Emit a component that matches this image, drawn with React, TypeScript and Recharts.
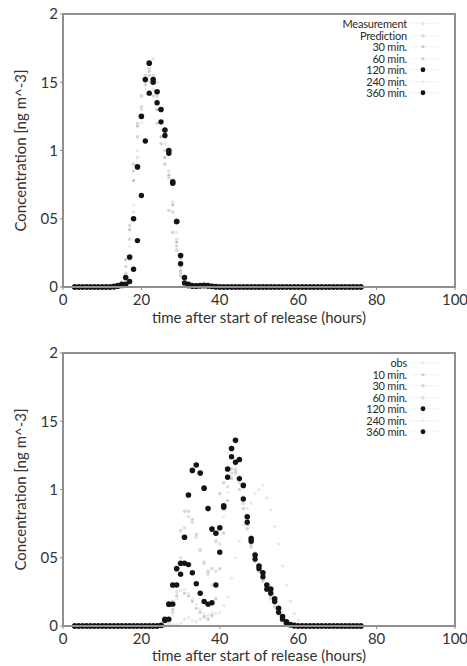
import { ReactElement } from 'react'
import { ScatterChart, Scatter, XAxis, YAxis } from 'recharts'

// sampling hours (shared by every series in both panels)
const hours = [
    3, 4, 5, 6, 7, 8, 9, 10, 11, 12,
    13, 14, 15, 16, 17, 18, 19, 20, 21, 22,
    23, 24, 25, 26, 27, 28, 29, 30, 31, 32,
    33, 34, 35, 36, 37, 38, 39, 40, 41, 42,
    43, 44, 45, 46, 47, 48, 49, 50, 51, 52,
    53, 54, 55, 56, 57, 58, 59, 60, 61, 62,
    63, 64, 65, 66, 67, 68, 69, 70, 71, 72,
    73, 74, 75, 76,
]

const xTicks = [0, 20, 40, 60, 80, 100]
const yTicks = [0, 0.5, 1, 1.5, 2]
const yTickLabels = ['0', '05', '1', '15', '2']

// ---- top panel ----
const topMeasurement = [
    0, 0, 0, 0, 0, 0, 0, 0, 0, 0,
    0, 0, 0.01, 0.05, 0.2, 0.55, 0.95, 1.3, 1.55, 1.6,
    1.67, 1.5, 1.3, 1.1, 0.85, 0.62, 0.35, 0.15, 0.05, 0.01,
    0, 0, 0, 0, 0, 0, 0, 0, 0, 0,
    0, 0, 0, 0, 0, 0, 0, 0, 0, 0,
    0, 0, 0, 0, 0, 0, 0, 0, 0, 0,
    0, 0, 0, 0, 0, 0, 0, 0, 0, 0,
    0, 0, 0, 0,
]
const topPrediction = [
    0, 0, 0, 0, 0, 0, 0, 0, 0, 0,
    0, 0, 0.03, 0.15, 0.45, 0.9, 1.2, 1.4, 1.55, 1.6,
    1.55, 1.4, 1.2, 1.0, 0.8, 0.55, 0.3, 0.1, 0.02, 0,
    0, 0, 0, 0, 0, 0, 0, 0, 0, 0,
    0, 0, 0, 0, 0, 0, 0, 0, 0, 0,
    0, 0, 0, 0, 0, 0, 0, 0, 0, 0,
    0, 0, 0, 0, 0, 0, 0, 0, 0, 0,
    0, 0, 0, 0,
]
const top30 = [
    0, 0, 0, 0, 0, 0, 0, 0, 0, 0,
    0, 0, 0.02, 0.2, 0.42, 0.78, 1.18, 1.4, 1.5, 1.58,
    1.45, 1.3, 1.1, 0.95, 0.82, 0.6, 0.33, 0.12, 0.03, 0,
    0, 0, 0, 0, 0, 0, 0, 0, 0, 0,
    0, 0, 0, 0, 0, 0, 0, 0, 0, 0,
    0, 0, 0, 0, 0, 0, 0, 0, 0, 0,
    0, 0, 0, 0, 0, 0, 0, 0, 0, 0,
    0, 0, 0, 0,
]
const top60 = [
    0, 0, 0, 0, 0, 0, 0, 0, 0, 0,
    0, 0, 0.01, 0.1, 0.35, 0.85, 1.1, 1.32, 1.48, 1.55,
    1.4, 1.2, 1.05, 0.9, 0.56, 0.4, 0.27, 0.08, 0.01, 0,
    0, 0, 0, 0, 0, 0, 0, 0, 0, 0,
    0, 0, 0, 0, 0, 0, 0, 0, 0, 0,
    0, 0, 0, 0, 0, 0, 0, 0, 0, 0,
    0, 0, 0, 0, 0, 0, 0, 0, 0, 0,
    0, 0, 0, 0,
]
const top120 = [
    0, 0, 0, 0, 0, 0, 0, 0, 0, 0,
    0.005, 0.01, 0.02, 0.07, 0.22, 0.5, 0.88, 1.25, 1.52, 1.64,
    1.52, 1.43, 1.3, 1.15, 1.0, 0.77, 0.48, 0.23, 0.07, 0.02,
    0.01, 0.005, 0.01, 0.012, 0.01, 0.005, 0.003, 0, 0, 0,
    0, 0, 0, 0, 0, 0, 0, 0, 0, 0,
    0, 0, 0, 0, 0, 0, 0, 0, 0, 0,
    0, 0, 0, 0, 0, 0, 0, 0, 0, 0,
    0, 0, 0, 0,
]
const top240 = [
    0, 0, 0, 0, 0, 0, 0, 0, 0, 0,
    0, 0.01, 0.03, 0.08, 0.3, 0.6, 1.0, 1.2, 1.45, 1.5,
    1.45, 1.35, 1.15, 1.05, 0.85, 0.62, 0.4, 0.2, 0.05, 0.01,
    0, 0, 0, 0, 0, 0, 0, 0, 0, 0,
    0, 0, 0, 0, 0, 0, 0, 0, 0, 0,
    0, 0, 0, 0, 0, 0, 0, 0, 0, 0,
    0, 0, 0, 0, 0, 0, 0, 0, 0, 0,
    0, 0, 0, 0,
]
const top360 = [
    0, 0, 0, 0, 0, 0, 0, 0, 0, 0,
    0, 0.005, 0.01, 0.02, 0.04, 0.13, 0.34, 0.67, 1.07, 1.42,
    1.5, 1.35, 1.21, 1.11, 0.98, 0.76, 0.48, 0.17, 0.03, 0.01,
    0.005, 0.01, 0.01, 0.01, 0.008, 0.004, 0, 0, 0, 0,
    0, 0, 0, 0, 0, 0, 0, 0, 0, 0,
    0, 0, 0, 0, 0, 0, 0, 0, 0, 0,
    0, 0, 0, 0, 0, 0, 0, 0, 0, 0,
    0, 0, 0, 0,
]

// ---- bottom panel ----
const botObs = [
    0, 0, 0, 0, 0, 0, 0, 0, 0, 0,
    0, 0, 0, 0, 0, 0, 0, 0, 0, 0,
    0, 0, 0, 0, 0.01, 0.01, 0.01, 0.02, 0.05, 0.06,
    0.04, 0.03, 0.05, 0.06, 0.08, 0.07, 0.09, 0.1, 0.15, 0.21,
    0.35, 0.5, 0.62, 0.74, 0.86, 0.9, 0.97, 1.0, 1.03, 0.94,
    0.85, 0.73, 0.6, 0.44, 0.3, 0.18, 0.09, 0.04, 0.01, 0,
    0, 0, 0, 0, 0, 0, 0, 0, 0, 0,
    0, 0, 0, 0,
]
const bot10 = [
    0, 0, 0, 0, 0, 0, 0, 0, 0, 0,
    0, 0, 0, 0, 0, 0, 0, 0, 0, 0,
    0, 0, 0, 0, 0.03, 0.12, 0.22, 0.26, 0.24, 0.22,
    0.18, 0.13, 0.1, 0.07, 0.05, 0.08, 0.2, 0.42, 0.68, 0.92,
    1.08, 1.14, 1.05, 0.9, 0.74, 0.6, 0.5, 0.41, 0.34, 0.27,
    0.21, 0.15, 0.09, 0.05, 0.02, 0.01, 0, 0, 0, 0,
    0, 0, 0, 0, 0, 0, 0, 0, 0, 0,
    0, 0, 0, 0,
]
const bot30 = [
    0, 0, 0, 0, 0, 0, 0, 0, 0, 0,
    0, 0, 0, 0, 0, 0, 0, 0, 0, 0,
    0, 0, 0, 0, 0.04, 0.18, 0.42, 0.7, 0.84, 0.84,
    0.78, 0.67, 0.56, 0.46, 0.4, 0.42, 0.62, 0.97, 1.05, 1.1,
    1.15, 1.12, 1.0, 0.86, 0.71, 0.58, 0.47, 0.4, 0.33, 0.26,
    0.2, 0.14, 0.09, 0.05, 0.02, 0, 0, 0, 0, 0,
    0, 0, 0, 0, 0, 0, 0, 0, 0, 0,
    0, 0, 0, 0,
]
const bot60 = [
    0, 0, 0, 0, 0, 0, 0, 0, 0, 0,
    0, 0, 0, 0, 0, 0, 0, 0, 0, 0,
    0, 0, 0, 0, 0.02, 0.1, 0.25, 0.5, 0.72, 0.8,
    0.76, 0.65, 0.55, 0.47, 0.38, 0.3, 0.4, 0.6, 0.85, 1.02,
    1.12, 1.15, 1.05, 0.9, 0.75, 0.62, 0.52, 0.43, 0.36, 0.29,
    0.23, 0.16, 0.1, 0.06, 0.03, 0.01, 0, 0, 0, 0,
    0, 0, 0, 0, 0, 0, 0, 0, 0, 0,
    0, 0, 0, 0,
]
const bot120 = [
    0, 0, 0, 0, 0, 0, 0, 0, 0, 0,
    0, 0, 0, 0, 0, 0, 0, 0, 0, 0,
    0, 0, 0.005, 0.05, 0.16, 0.3, 0.42, 0.46, 0.65, 0.96,
    1.14, 1.18, 1.12, 1.01, 0.86, 0.71, 0.68, 0.72, 0.88, 1.15,
    1.3, 1.36, 1.22, 1.03, 0.8, 0.64, 0.52, 0.44, 0.39, 0.3,
    0.27, 0.2, 0.13, 0.07, 0.03, 0.01, 0.005, 0, 0, 0,
    0, 0, 0, 0, 0, 0, 0, 0, 0, 0,
    0, 0, 0, 0,
]
const bot240 = [
    0, 0, 0, 0, 0, 0, 0, 0, 0, 0,
    0, 0, 0, 0, 0, 0, 0, 0, 0, 0,
    0, 0, 0, 0, 0, 0.08, 0.2, 0.26, 0.27, 0.24,
    0.2, 0.16, 0.12, 0.09, 0.07, 0.1, 0.3, 0.55, 0.8, 0.98,
    1.1, 1.18, 1.1, 0.95, 0.8, 0.66, 0.54, 0.45, 0.38, 0.31,
    0.25, 0.18, 0.12, 0.07, 0.03, 0.01, 0, 0, 0, 0,
    0, 0, 0, 0, 0, 0, 0, 0, 0, 0,
    0, 0, 0, 0,
]
const bot360 = [
    0, 0, 0, 0, 0, 0, 0, 0, 0, 0,
    0, 0, 0, 0, 0, 0, 0, 0, 0, 0,
    0, 0, 0.003, 0.04, 0.05, 0.16, 0.3, 0.38, 0.46, 0.45,
    0.39, 0.31, 0.24, 0.18, 0.16, 0.17, 0.3, 0.54, 0.87, 1.09,
    1.24, 1.2, 1.08, 0.93, 0.76, 0.62, 0.49, 0.42, 0.36, 0.27,
    0.24, 0.18, 0.1, 0.05, 0.02, 0.01, 0, 0, 0, 0,
    0, 0, 0, 0, 0, 0, 0, 0, 0, 0,
    0, 0, 0, 0,
]

interface SeriesDef {
    name: string
    values: number[]
    color: string
    r: number
}

const topSeries: SeriesDef[] = [
    { name: 'Measurement', values: topMeasurement, color: '#e4e4e4', r: 1.8 },
    { name: 'Prediction', values: topPrediction, color: '#dadada', r: 1.8 },
    { name: '30 min.', values: top30, color: '#c4c4c4', r: 1.6 },
    { name: '60 min.', values: top60, color: '#d6d6d6', r: 1.8 },
    { name: '120 min.', values: top120, color: '#141414', r: 2.8 },
    { name: '240 min.', values: top240, color: '#ebebeb', r: 1.6 },
    { name: '360 min.', values: top360, color: '#141414', r: 2.7 },
]

const bottomSeries: SeriesDef[] = [
    { name: 'obs', values: botObs, color: '#e8e8e8', r: 1.6 },
    { name: '10 min.', values: bot10, color: '#cdcdcd', r: 1.6 },
    { name: '30 min.', values: bot30, color: '#d6d6d6', r: 1.8 },
    { name: '60 min.', values: bot60, color: '#e0e0e0', r: 1.8 },
    { name: '120 min.', values: bot120, color: '#141414', r: 2.8 },
    { name: '240 min.', values: bot240, color: '#ebebeb', r: 1.6 },
    { name: '360 min.', values: bot360, color: '#141414', r: 2.7 },
]

const FONT = "Lato, 'Open Sans', sans-serif"
const AXIS = '#8f8f8f'
const TEXT = '#333'

// plot box (chart margins decide where it lands)
const PLOT_LEFT = 63
const PLOT_RIGHT = 12
const PLOT_HEIGHT = 273

const Panel = ({
    series,
    top,
    axisHeight,
    labelOffset,
    legendTop,
    legendRight,
}: {
    series: SeriesDef[]
    top: number
    axisHeight: number
    labelOffset: number
    legendTop: number
    legendRight: number
}): ReactElement => {
    const drawOrder = [...series].sort((a, b) => a.r - b.r)
    return (
        <div style={{ position: 'relative', width: 467, height: 333 }}>
            <ScatterChart width={467} height={333} margin={{ top, right: PLOT_RIGHT, bottom: 0, left: 0 }}>
                <XAxis
                    type="number"
                    dataKey="x"
                    domain={[0, 100]}
                    ticks={xTicks}
                    height={axisHeight}
                    stroke={AXIS}
                    tickSize={3}
                    tickMargin={4}
                    tick={{ fill: TEXT, fontSize: 15, fontFamily: FONT }}
                    label={{
                        value: 'time after start of release (hours)',
                        position: 'insideBottom',
                        offset: labelOffset,
                        fill: TEXT,
                        fontSize: 15,
                        fontFamily: FONT,
                    }}
                />
                <YAxis
                    type="number"
                    dataKey="y"
                    domain={[0, 2]}
                    ticks={yTicks}
                    width={PLOT_LEFT}
                    stroke={AXIS}
                    tickSize={3}
                    tickMargin={2}
                    tickFormatter={(v: number) => yTickLabels[yTicks.indexOf(v)]}
                    tick={{ fill: TEXT, fontSize: 15, fontFamily: FONT }}
                    label={{
                        value: 'Concentration [ng m^-3]',
                        angle: -90,
                        position: 'insideLeft',
                        offset: 21,
                        fill: TEXT,
                        fontSize: 15,
                        fontFamily: FONT,
                        style: { textAnchor: 'middle' },
                    }}
                />
                {drawOrder.map((s) => (
                    <Scatter
                        key={s.name + s.color}
                        name={s.name}
                        data={hours.map((h, i) => ({ x: h, y: s.values[i] }))}
                        isAnimationActive={false}
                        shape={(p: { cx?: number; cy?: number }) => (
                            <circle cx={p.cx} cy={p.cy} r={s.r} fill={s.color} />
                        )}
                    />
                ))}
            </ScatterChart>
            {/* frame round the plot area, drawn on top */}
            <div
                style={{
                    position: 'absolute',
                    zIndex: 2,
                    pointerEvents: 'none',
                    left: PLOT_LEFT - 1,
                    top: top - 1,
                    width: 467 - PLOT_LEFT - PLOT_RIGHT + 2,
                    height: PLOT_HEIGHT + 2,
                    border: `2px solid ${AXIS}`,
                    boxSizing: 'border-box',
                }}
            />
            <div
                style={{
                    position: 'absolute',
                    zIndex: 3,
                    top: legendTop,
                    right: legendRight,
                    fontFamily: FONT,
                    fontSize: 11,
                    color: '#2a2a2a',
                    lineHeight: '11.5px',
                }}
            >
                {series.map((s) => (
                    <div key={s.name} style={{ display: 'flex', alignItems: 'center', justifyContent: 'flex-end' }}>
                        <span style={{ textAlign: 'right', letterSpacing: -0.2 }}>{s.name}</span>
                        <svg width={32} height={11.5} style={{ display: 'block' }}>
                            <line x1={4} y1={5.75} x2={32} y2={5.75} stroke="#f2f2f2" strokeWidth={1} />
                            <circle cx={16} cy={5.75} r={Math.min(s.r, 2.4)} fill={s.color} />
                        </svg>
                    </div>
                ))}
            </div>
        </div>
    )
}

export default function App(): ReactElement {
    return (
        <div style={{ position: 'absolute', left: 0, top: 0, width: 467, height: 666, background: '#fff' }}>
            <Panel series={topSeries} top={14} axisHeight={46} labelOffset={10} legendTop={18} legendRight={28} />
            <Panel series={bottomSeries} top={20} axisHeight={40} labelOffset={5} legendTop={24} legendRight={28} />
        </div>
    )
}
